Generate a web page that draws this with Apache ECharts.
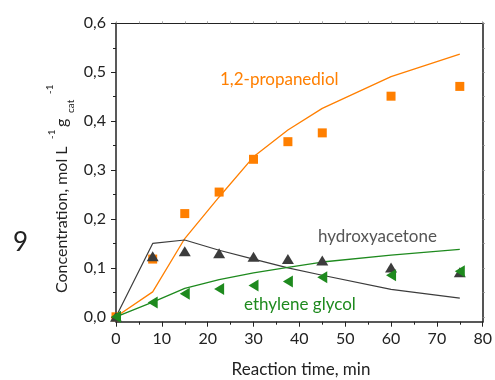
<!DOCTYPE html>
<html lang="en">
<head>
  <meta charset="UTF-8">
  <title>Concentration vs reaction time</title>
  <style>
    html, body { margin: 0; padding: 0; background: #fff; }
    #chart { width: 495px; height: 380px; }
  </style>
</head>
<body>
  <div id="chart"></div>
  <script src="https://cdn.jsdelivr.net/npm/echarts@6/dist/echarts.min.js"></script>
  <script type="text/javascript">
  // 数据
  var timeMin = [0, 8, 15, 22.5, 30, 37.5, 45, 60, 75];
  var propanediolExp = [0, 0.118, 0.211, 0.255, 0.322, 0.358, 0.376, 0.451, 0.471];
  var hydroxyExp = [0, 0.124, 0.134, 0.130, 0.123, 0.118, 0.115, 0.101, 0.091];
  var glycolExp = [0, 0.029, 0.047, 0.057, 0.064, 0.072, 0.081, 0.085, 0.093];
  var propanediolModel = [0, 0.051, 0.160, 0.245, 0.327, 0.382, 0.426, 0.491, 0.537];
  var hydroxyModel = [0, 0.150, 0.157, 0.136, 0.118, 0.100, 0.085, 0.056, 0.038];
  var glycolModel = [0, 0.030, 0.058, 0.076, 0.090, 0.101, 0.112, 0.126, 0.138];
  var yMajor = [0, 0.1, 0.2, 0.3, 0.4, 0.5, 0.6];
  var yMinor = [0.05, 0.15, 0.25, 0.35, 0.45, 0.55];
  var yAll = [0, 0.05, 0.1, 0.15, 0.2, 0.25, 0.3, 0.35, 0.4, 0.45, 0.5, 0.55, 0.6];

  var font = 'Lato';
  var orange = '#FF7F00';
  var dark = '#3c3c3c';
  var green = '#1E8A1E';

  function pairs(xs, ys) {
    return xs.map(function (x, i) { return [x, ys[i]]; });
  }

  var myChart = echarts.init(document.getElementById('chart'));

  var option = {
    animation: false,
    grid: { left: 116, right: 11.5, top: 23.3, bottom: 58.3 },
    xAxis: [
      {
        type: 'value', min: 0, max: 80, interval: 10, position: 'bottom',
        axisLine: { onZero: false, lineStyle: { color: '#222', width: 1.5 } },
        axisTick: { length: 5, lineStyle: { color: '#222' } },
        minorTick: { show: true, splitNumber: 2, length: 3, lineStyle: { color: '#222' } },
        splitLine: { show: false },
        axisLabel: { fontFamily: font, fontSize: 16, color: '#222', margin: 9 }
      },
      {
        type: 'value', min: 0, max: 80, interval: 10, position: 'top',
        axisLine: { onZero: false, lineStyle: { color: '#222', width: 1 } },
        axisTick: { length: 2, lineStyle: { color: '#aaa' } },
        minorTick: { show: true, splitNumber: 2, length: 2, lineStyle: { color: '#aaa' } },
        splitLine: { show: false },
        axisLabel: { show: false }
      }
    ],
    yAxis: [
      {
        type: 'value', min: -0.01, max: 0.6, position: 'left',
        axisLine: { show: true, onZero: false, lineStyle: { color: '#222', width: 1.5 } },
        axisTick: { show: true, length: 5, customValues: yMajor, lineStyle: { color: '#222' } },
        splitLine: { show: false },
        axisLabel: {
          customValues: yMajor, fontFamily: font, fontSize: 16, color: '#222', margin: 10,
          formatter: function (v) { return v.toFixed(1).replace('.', ','); }
        }
      },
      {
        type: 'value', min: -0.01, max: 0.6, position: 'left',
        axisLine: { show: false },
        axisTick: { show: true, length: 3, customValues: yMinor, lineStyle: { color: '#222' } },
        splitLine: { show: false },
        axisLabel: { show: false }
      },
      {
        type: 'value', min: -0.01, max: 0.6, position: 'right',
        axisLine: { show: true, onZero: false, lineStyle: { color: '#555', width: 2 } },
        axisTick: { show: true, length: 2, customValues: yAll, lineStyle: { color: '#888' } },
        splitLine: { show: false },
        axisLabel: { show: false }
      }
    ],
    series: [
      {
        type: 'line', data: pairs(timeMin, propanediolModel), showSymbol: false,
        lineStyle: { color: orange, width: 1.3 }, z: 2
      },
      {
        type: 'line', data: pairs(timeMin, hydroxyModel), showSymbol: false,
        lineStyle: { color: dark, width: 1.2 }, z: 2
      },
      {
        type: 'line', data: pairs(timeMin, glycolModel), showSymbol: false,
        lineStyle: { color: green, width: 1.3 }, z: 2
      },
      {
        type: 'scatter', data: pairs(timeMin, propanediolExp), symbol: 'rect', symbolSize: 9,
        itemStyle: { color: orange, opacity: 1 }, z: 3
      },
      {
        type: 'scatter', data: pairs(timeMin, hydroxyExp), symbol: 'triangle', symbolSize: [12, 10],
        itemStyle: { color: dark, opacity: 1 }, z: 4
      },
      {
        type: 'scatter', data: pairs(timeMin, glycolExp), symbol: 'triangle', symbolSize: [12, 10],
        symbolRotate: 90, itemStyle: { color: green, opacity: 1 }, z: 5
      }
    ],
    graphic: [
      { type: 'text', left: 13, top: 230, style: { text: '9', font: '26px ' + font, fill: '#222' } },
      {
        type: 'text', x: 301, y: 370,
        style: { text: 'Reaction time, min', font: '17px ' + font, fill: '#222', textAlign: 'center', textVerticalAlign: 'middle' }
      },
      {
        type: 'text', x: 220, y: 80,
        style: { text: '1,2-propanediol', font: '17px ' + font, fill: orange, textAlign: 'left', textVerticalAlign: 'middle' }
      },
      {
        type: 'text', x: 318, y: 237,
        style: { text: 'hydroxyacetone', font: '17px ' + font, fill: '#555', textAlign: 'left', textVerticalAlign: 'middle' }
      },
      {
        type: 'text', x: 244, y: 305,
        style: { text: 'ethylene glycol', font: '17px ' + font, fill: green, textAlign: 'left', textVerticalAlign: 'middle' }
      },
      {
        // y axis title, rotated
        type: 'group', x: 62, y: 293, rotation: Math.PI / 2,
        children: [
          { type: 'text', x: 0, y: 0, style: { text: 'Concentration, mol L', font: '16px ' + font, fill: '#222', textVerticalAlign: 'middle' } },
          { type: 'text', x: 154, y: -10, style: { text: '-1', font: '10px ' + font, fill: '#222', textVerticalAlign: 'middle' } },
          { type: 'text', x: 166, y: 0, style: { text: 'g', font: '16px ' + font, fill: '#222', textVerticalAlign: 'middle' } },
          { type: 'text', x: 180, y: 9, style: { text: 'cat', font: '10px ' + font, fill: '#222', textVerticalAlign: 'middle' } },
          { type: 'text', x: 199, y: -12, style: { text: '-1', font: '10px ' + font, fill: '#222', textVerticalAlign: 'middle' } }
        ]
      }
    ]
  };
  myChart.setOption(option);
  </script>
</body>
</html>
